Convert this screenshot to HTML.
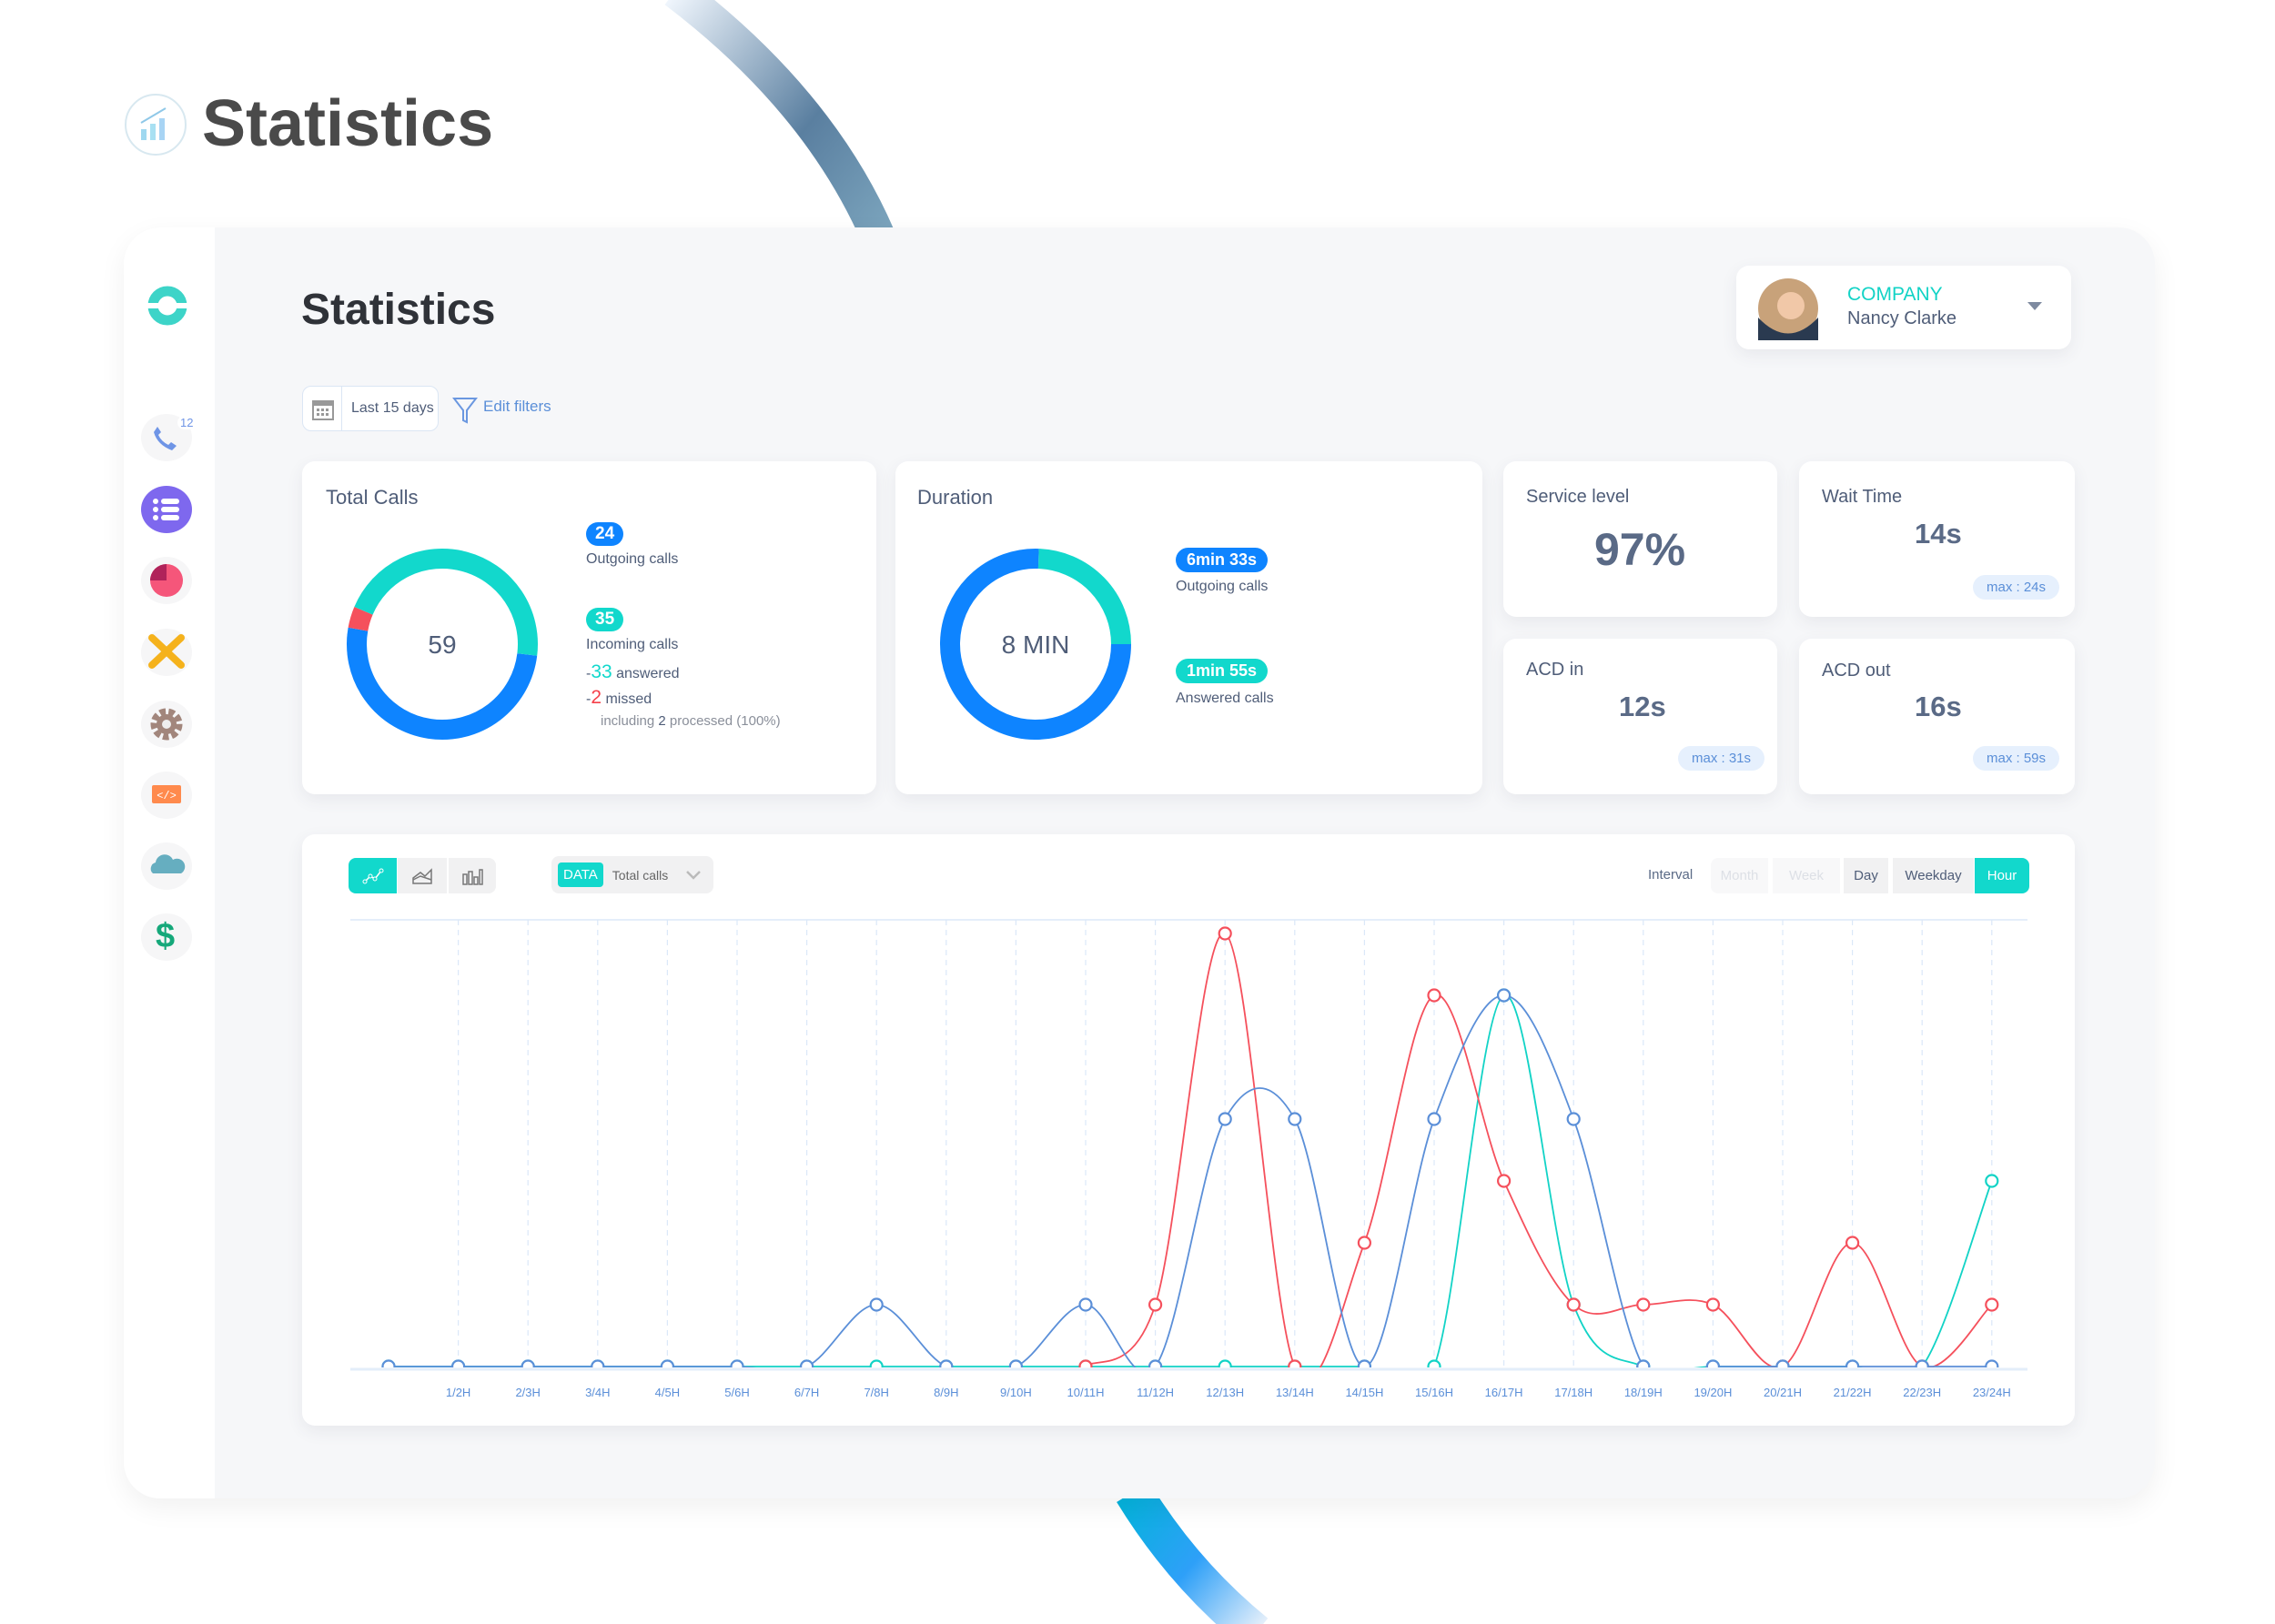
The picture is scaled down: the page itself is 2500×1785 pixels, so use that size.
<!DOCTYPE html>
<html><head><meta charset="utf-8"><style>
*{box-sizing:border-box;margin:0;padding:0}
body{width:2500px;height:1785px;background:#fff;position:relative;overflow:hidden;font-family:"Liberation Sans",sans-serif;color:#4f5d78}
.abs{position:absolute}
.card{position:absolute;background:#fff;border-radius:14px;box-shadow:0 6px 18px rgba(60,70,90,0.08)}
.t{position:absolute;white-space:nowrap}
.side-ic{position:absolute;width:56px;height:52px;border-radius:50%;background:#f6f6f7;left:155px}
.btn{position:absolute;top:943px;height:39px;background:#f1f1f2;font-size:15px;display:flex;align-items:center;justify-content:center}
.maxpill{position:absolute;background:#e6f0fd;color:#5b8fd8;font-size:15px;border-radius:14px;height:27px;line-height:27px;text-align:center;width:95px}
</style></head><body>
<svg class="abs" style="left:0;top:0" width="2500" height="1785">
<defs>
<linearGradient id="g1" x1="0" y1="0" x2="1" y2="1"><stop offset="0" stop-color="#f0f6fd"/><stop offset="0.6" stop-color="#5a7fa0"/><stop offset="1" stop-color="#7aa3bc"/></linearGradient>
<linearGradient id="g2" x1="0" y1="0" x2="1" y2="1"><stop offset="0" stop-color="#05b2dc"/><stop offset="0.5" stop-color="#2ea0f8"/><stop offset="1" stop-color="#e5effa"/></linearGradient>
</defs>
<path d="M742 -10 Q900 110 965 260" stroke="url(#g1)" stroke-width="38" fill="none"/>
<path d="M1245 1640 Q1300 1730 1380 1795" stroke="url(#g2)" stroke-width="42" fill="none"/>
</svg>

<svg class="abs" style="left:136px;top:102px" width="70" height="70">
<circle cx="35" cy="35" r="33" fill="#fff" stroke="#d8e8f0" stroke-width="2"/>
<rect x="19" y="40" width="6" height="12" fill="#9fd8f0"/><rect x="29" y="34" width="6" height="18" fill="#a8e0f2"/><rect x="39" y="28" width="6" height="24" fill="#a8d4f4"/>
<path d="M19 33 L46 17" stroke="#8fc8e8" stroke-width="2"/>
</svg>
<div class="t" style="left:222px;top:95px;font-size:72px;font-weight:bold;color:#4a4a4a">Statistics</div>

<div class="abs" style="left:136px;top:250px;width:2232px;height:1397px;background:#f6f7f9;border-radius:40px;box-shadow:0 10px 30px rgba(0,0,0,0.06);overflow:hidden">
<div class="abs" style="left:0;top:0;width:100px;height:1397px;background:#fff"></div>
</div>

<svg class="abs" style="left:160px;top:312px" width="48" height="48"><circle cx="24" cy="24" r="16" fill="none" stroke="#3dd4c8" stroke-width="11"/><rect x="0" y="21" width="48" height="6" fill="#fff"/></svg>

<div class="side-ic" style="top:455px"><svg width="56" height="52"><path d="M14 20 q4 14 20 20 l5 -5 l-6 -4 l-3 3 q-8 -4 -11 -11 l3 -3 l-4 -6z" fill="#6f95e6"/></svg><span class="t" style="left:40px;top:2px;font-size:13px;color:#6f95e6;background:#fff;border-radius:9px;padding:0 3px">12</span></div>
<div class="side-ic" style="top:534px;background:#7e68ee"><svg width="56" height="52"><g fill="#fff"><circle cx="16" cy="17" r="3"/><circle cx="16" cy="26" r="3"/><circle cx="16" cy="35" r="3"/><rect x="22" y="14" width="20" height="6" rx="3"/><rect x="22" y="23" width="20" height="6" rx="3"/><rect x="22" y="32" width="20" height="6" rx="3"/></g></svg></div>
<div class="side-ic" style="top:612px"><svg width="56" height="52"><circle cx="28" cy="26" r="18" fill="#f5567a"/><path d="M28 26 L10 26 A18 18 0 0 1 28 8z" fill="#b0235a"/></svg></div>
<div class="side-ic" style="top:691px"><svg width="56" height="52"><path d="M12 10 L44 40 M44 10 L12 40" stroke="#f5b21c" stroke-width="8" stroke-linecap="round"/></svg></div>
<div class="side-ic" style="top:770px"><svg width="56" height="52"><circle cx="28" cy="26" r="13" fill="none" stroke="#a2867c" stroke-width="9" stroke-dasharray="6 3"/><circle cx="28" cy="26" r="11" fill="#a2867c"/><circle cx="28" cy="26" r="5" fill="#eee"/></svg></div>
<div class="side-ic" style="top:848px"><svg width="56" height="52"><rect x="12" y="15" width="32" height="20" rx="2" fill="#ff8a4d"/><text x="28" y="30" font-size="12" fill="#fff" text-anchor="middle" font-family="Liberation Mono">&lt;/&gt;</text></svg></div>
<div class="side-ic" style="top:926px"><svg width="56" height="52"><path d="M13 34 a7 7 0 0 1 3 -12 a10 10 0 0 1 19 -3 a8 8 0 0 1 9 15z" fill="#66aec0"/></svg></div>
<div class="side-ic" style="top:1004px"><span class="t" style="left:16px;top:4px;font-size:38px;font-weight:bold;color:#15a87a">$</span></div>

<div class="t" style="left:331px;top:313px;font-size:48px;font-weight:bold;color:#2f3238">Statistics</div>

<div class="abs" style="left:332px;top:424px;width:150px;height:50px;background:#fff;border:1px solid #dbe6f4;border-radius:10px">
<svg class="abs" style="left:9px;top:12px" width="26" height="26"><rect x="2" y="4" width="22" height="20" fill="none" stroke="#999" stroke-width="2"/><rect x="2" y="4" width="22" height="5" fill="#999"/><g fill="#999"><rect x="6" y="12" width="3" height="3"/><rect x="11" y="12" width="3" height="3"/><rect x="16" y="12" width="3" height="3"/><rect x="6" y="17" width="3" height="3"/><rect x="11" y="17" width="3" height="3"/><rect x="16" y="17" width="3" height="3"/></g></svg>
<div class="abs" style="left:42px;top:0;width:1px;height:48px;background:#dbe6f4"></div>
<div class="t" style="left:53px;top:15px;font-size:16px;color:#4f5d78">Last 15 days</div></div>
<svg class="abs" style="left:497px;top:435px" width="28" height="32"><path d="M2 3 H26 L16 16 V29 L12 27 V16z" fill="none" stroke="#6a97e0" stroke-width="2"/></svg>
<div class="t" style="left:531px;top:437px;font-size:17px;color:#5b8fd8">Edit filters</div>

<div class="card" style="left:1908px;top:292px;width:368px;height:92px">
<svg class="abs" style="left:22px;top:12px" width="70" height="70"><circle cx="35" cy="35" r="33" fill="#c8a27a"/><circle cx="38" cy="32" r="15" fill="#f1c8a8"/><path d="M2 45 Q35 80 68 45 L68 70 L2 70z" fill="#2a3a50"/></svg>
<div class="t" style="left:122px;top:20px;font-size:21px;color:#12d3c6">COMPANY</div>
<div class="t" style="left:122px;top:47px;font-size:20px;color:#4f5d78">Nancy Clarke</div>
<svg class="abs" style="left:320px;top:40px" width="18" height="12"><path d="M0 0 H16 L8 9z" fill="#7e8aa0"/></svg>
</div>

<div class="card" style="left:332px;top:507px;width:631px;height:366px">
<div class="t" style="left:26px;top:27px;font-size:22px;color:#4f5d78">Total Calls</div>
<div class="abs" style="left:312px;top:67px;background:#0e84ff;color:#fff;font-size:19px;font-weight:bold;border-radius:14px;padding:2px 10px">24</div>
<div class="t" style="left:312px;top:99px;font-size:16px">Outgoing calls</div>
<div class="abs" style="left:312px;top:161px;background:#12d8cc;color:#fff;font-size:19px;font-weight:bold;border-radius:14px;padding:2px 10px">35</div>
<div class="t" style="left:312px;top:193px;font-size:16px">Incoming calls</div>
<div class="t" style="left:312px;top:220px;font-size:16px">-<span style="color:#12d8cc;font-size:21px">33</span> answered</div>
<div class="t" style="left:312px;top:248px;font-size:16px">-<span style="color:#f5404a;font-size:21px">2</span> missed</div>
<div class="t" style="left:328px;top:277px;font-size:15px;color:#8a8f9a">including <span style="color:#4f5d78">2</span> processed (100%)</div>
</div>
<svg class="abs" style="left:366px;top:588px" width="240" height="240" id="d1"></svg>

<div class="card" style="left:984px;top:507px;width:645px;height:366px">
<div class="t" style="left:24px;top:27px;font-size:22px;color:#4f5d78">Duration</div>
<div class="abs" style="left:308px;top:95px;background:#0e84ff;color:#fff;font-size:18px;font-weight:bold;border-radius:14px;padding:3px 12px">6min 33s</div>
<div class="t" style="left:308px;top:129px;font-size:16px">Outgoing calls</div>
<div class="abs" style="left:308px;top:217px;background:#12d8cc;color:#fff;font-size:18px;font-weight:bold;border-radius:14px;padding:3px 12px">1min 55s</div>
<div class="t" style="left:308px;top:252px;font-size:16px">Answered calls</div>
</div>
<svg class="abs" style="left:1018px;top:588px" width="240" height="240" id="d2"></svg>

<div class="card" style="left:1652px;top:507px;width:301px;height:171px">
<div class="t" style="left:25px;top:28px;font-size:20px">Service level</div>
<div class="t" style="left:100px;top:68px;font-size:50px;font-weight:bold;color:#5a6a86">97%</div></div>
<div class="card" style="left:1977px;top:507px;width:303px;height:171px">
<div class="t" style="left:25px;top:28px;font-size:20px">Wait Time</div>
<div class="t" style="left:127px;top:62px;font-size:31px;font-weight:bold;color:#5a6a86">14s</div>
<div class="maxpill" style="left:191px;top:125px">max : 24s</div></div>
<div class="card" style="left:1652px;top:702px;width:301px;height:171px">
<div class="t" style="left:25px;top:23px;font-size:20px">ACD in</div>
<div class="t" style="left:127px;top:57px;font-size:31px;font-weight:bold;color:#5a6a86">12s</div>
<div class="maxpill" style="left:192px;top:118px">max : 31s</div></div>
<div class="card" style="left:1977px;top:702px;width:303px;height:171px">
<div class="t" style="left:25px;top:24px;font-size:20px">ACD out</div>
<div class="t" style="left:127px;top:57px;font-size:31px;font-weight:bold;color:#5a6a86">16s</div>
<div class="maxpill" style="left:191px;top:118px">max : 59s</div></div>

<div class="card" style="left:332px;top:917px;width:1948px;height:650px"></div>
<div class="btn" style="left:383px;width:53px;background:#12d8cc;border-radius:8px 0 0 8px"><svg width="24" height="20"><path d="M3 16 L9 10 L14 13 L21 4" stroke="#fff" fill="none" stroke-width="1.5"/><g fill="#12d8cc" stroke="#fff"><circle cx="3" cy="16" r="2"/><circle cx="9" cy="10" r="2"/><circle cx="14" cy="13" r="2"/><circle cx="21" cy="4" r="2"/></g></svg></div>
<div class="btn" style="left:437px;width:54px"><svg width="24" height="20"><path d="M2 18 V12 L10 6 L15 10 L22 3 V18z M2 14 L10 10 L22 14" stroke="#777" fill="none" stroke-width="1.5"/></svg></div>
<div class="btn" style="left:493px;width:52px;border-radius:0 8px 8px 0"><svg width="24" height="20"><g fill="none" stroke="#777" stroke-width="1.5"><rect x="2" y="8" width="4" height="11"/><rect x="8" y="5" width="4" height="14"/><rect x="14" y="11" width="4" height="8"/><rect x="20" y="3" width="3" height="16"/></g></svg></div>
<div class="btn" style="left:606px;width:178px;top:941px;height:41px;border-radius:8px;justify-content:flex-start">
<span style="margin-left:7px;background:#12d8cc;color:#fff;padding:5px 6px;border-radius:4px;font-size:15px">DATA</span><span style="margin-left:10px;color:#666;font-size:14px">Total calls</span><svg style="margin-left:20px" width="16" height="10"><path d="M1 1 L8 8 L15 1" stroke="#bbb" stroke-width="2.5" fill="none"/></svg></div>
<div class="t" style="left:1811px;top:953px;font-size:15px;color:#5a6a86">Interval</div>
<div class="btn" style="left:1880px;width:63px;background:#f8f8f9;color:#dde0e6;border-radius:8px 0 0 8px">Month</div>
<div class="btn" style="left:1948px;width:74px;background:#f8f8f9;color:#dde0e6">Week</div>
<div class="btn" style="left:2026px;width:49px;color:#4f5d78">Day</div>
<div class="btn" style="left:2080px;width:89px;color:#4f5d78">Weekday</div>
<div class="btn" style="left:2170px;width:60px;background:#12d8cc;color:#fff;border-radius:0 8px 8px 0">Hour</div>

<svg class="abs" id="chart" style="left:0;top:0" width="2500" height="1785"></svg>

<script>
const categories=["","1/2H","2/3H","3/4H","4/5H","5/6H","6/7H","7/8H","8/9H","9/10H","10/11H","11/12H","12/13H","13/14H","14/15H","15/16H","16/17H","17/18H","18/19H","19/20H","20/21H","21/22H","22/23H","23/24H"];
const blueValues=[0,0,0,0,0,0,0,1,0,0,1,0,4,4,0,4,6,4,0,0,0,0,0,0];
const tealValues=[0,0,0,0,0,0,0,0,0,0,0,0,0,0,0,0,6,1,0,0,0,0,0,3];
const redValues=[null,null,null,null,null,null,null,null,null,null,0,1,7,0,2,6,3,1,1,1,0,2,0,1];
const donut1Values=[183,13,164]; // blue, red, teal (visual shares)
const donut2Values=[88,272];     // teal, blue

const NS="http://www.w3.org/2000/svg";
function mk(p,tag,attrs){const e=document.createElementNS(NS,tag);for(const k in attrs)e.setAttribute(k,attrs[k]);p.appendChild(e);return e;}
const X0=427,STEP=76.6,BASE=1502,UNIT=68;
const xs=i=>X0+i*STEP, ys=v=>BASE-v*UNIT;
const svg=document.getElementById('chart');
const clip=mk(svg,'clipPath',{id:'pc'});mk(clip,'rect',{x:380,y:990,width:1860,height:1503-990});
mk(svg,'line',{x1:385,y1:1011,x2:2228,y2:1011,stroke:'#dbe8f8','stroke-width':1.5});
categories.forEach((c,i)=>{
  if(i>0){const g=mk(svg,'line',{x1:xs(i),y1:1011,x2:xs(i),y2:1502,stroke:'#dbe8f8','stroke-dasharray':'6 5','stroke-width':1.2});
  
  const t=mk(svg,'text',{x:xs(i),y:1535,'font-size':13,fill:'#5b8fd8','text-anchor':'middle','font-family':'Liberation Sans'});t.textContent=c;
  }
});
mk(svg,'line',{x1:385,y1:1505,x2:2228,y2:1505,stroke:'#e3eefa','stroke-width':3});
function pathFor(vals){
  let pts=[];vals.forEach((v,i)=>{if(v!==null)pts.push([xs(i),ys(v)]);});
  let d='M'+pts[0][0]+' '+pts[0][1];
  for(let i=0;i<pts.length-1;i++){const p0=pts[i-1]||pts[i],p1=pts[i],p2=pts[i+1],p3=pts[i+2]||p2;const t=6;
    d+=` C${p1[0]+(p2[0]-p0[0])/t} ${p1[1]+(p2[1]-p0[1])/t} ${p2[0]-(p3[0]-p1[0])/t} ${p2[1]-(p3[1]-p1[1])/t} ${p2[0]} ${p2[1]}`;}
  return d;}
function series(vals,color,name){
  const g=mk(svg,'g',{'clip-path':'url(#pc)'});
  
  mk(g,'path',{d:pathFor(vals),fill:'none',stroke:color,'stroke-width':1.8});
  vals.forEach((v,i)=>{if(v===null)return;const c=mk(g,'circle',{cx:xs(i),cy:ys(v),r:6.5,fill:'#fff',stroke:color,'stroke-width':2.2});
    });
}
series(tealValues,'#12d3c6','teal-series');
series(redValues,'#f5505c','red-series');
series(blueValues,'#5b8fd8','blue-series');

function donut(id,vals,colors,start,label,fs){
  const s=document.getElementById(id);const cx=120,cy=120,r=94;const tot=vals.reduce((a,b)=>a+b,0);
  let a0=start;
  vals.forEach((v,i)=>{const a1=a0+v/tot*360;const p=(a)=>[cx+r*Math.sin(a*Math.PI/180),cy-r*Math.cos(a*Math.PI/180)];
    const [x1,y1]=p(a0),[x2,y2]=p(a1);
    const e=mk(s,'path',{d:`M${x1} ${y1} A${r} ${r} 0 ${a1-a0>180?1:0} 1 ${x2} ${y2}`,fill:'none',stroke:colors[i],'stroke-width':22});
    a0=a1;});
  const t=mk(s,'text',{x:cx,y:cy+10,'text-anchor':'middle','font-size':fs,fill:'#4f5d78','font-family':'Liberation Sans'});t.textContent=label;
  
}
donut('d1',donut1Values,['#0e84ff','#f5505c','#12d8cc'],97,'59',28);
donut('d2',donut2Values,['#12d8cc','#0e84ff'],2,'8 MIN',28);
</script>
</body></html>
